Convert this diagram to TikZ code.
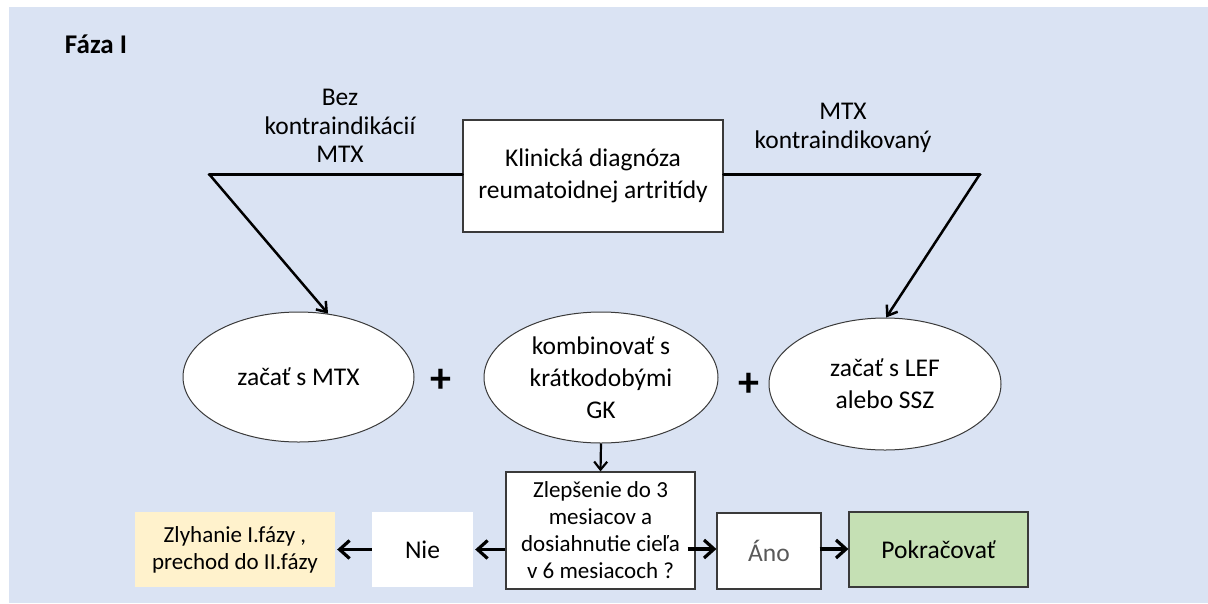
\documentclass[tikz,border=0pt]{standalone}
\usepackage{fontspec}
\setmainfont{Carlito}
\usetikzlibrary{arrows.meta,shapes.geometric}
\definecolor{bgblue}{HTML}{DAE3F3}
\definecolor{failyellow}{HTML}{FFF2CC}
\definecolor{okgreen}{HTML}{C5E0B4}
\definecolor{edgegrey}{HTML}{3A3A3A}
\definecolor{anotext}{HTML}{595959}
\begin{document}
\begin{tikzpicture}[x=1pt,y=-1pt,
  txt/.style={font=\fontsize{25.5}{32}\selectfont, align=center, inner sep=0pt},
  smalltxt/.style={font=\fontsize{23}{27}\selectfont, align=center, inner sep=0pt},
  lbltxt/.style={font=\fontsize{25.5}{28.5}\selectfont, align=center, inner sep=0pt},
  boxnode/.style={draw=edgegrey, line width=1.2pt, fill=white, inner sep=0pt},
  plainbox/.style={fill=white, inner sep=0pt},
  oval/.style={ellipse, draw=edgegrey, line width=1pt, fill=white, inner sep=0pt,
    minimum width=231pt, minimum height=130pt, font=\fontsize{25.5}{32}\selectfont, align=center},
  branch/.style={line width=3pt, line cap=round, line join=miter},
  diagarrow/.style={line width=2.5pt, -{Straight Barb[length=9pt,width=13pt,line width=2.5pt]}},
  flowarrow/.style={line width=3.2pt, -{Straight Barb[length=10pt,width=18pt,line width=3.2pt]}},
  downarrow/.style={line width=2.2pt, -{Straight Barb[length=8pt,width=13pt,line width=2.2pt]}},
  plussign/.style={font=\fontsize{42}{42}\selectfont\bfseries, inner sep=0pt}
]
\useasboundingbox (0,0) rectangle (1208,603);
\fill[bgblue] (9,7) rectangle (1208,603);

% title
\node[font=\fontsize{27}{30}\selectfont\bfseries, inner sep=0pt] (title) at (96,44) {Fáza I};

% diagnosis box
\node[boxnode, txt, minimum width=260pt, minimum height=112pt] (diag) at (593,176)
  {Klinická diagnóza\\reumatoidnej artritídy};

% branch labels
\node[lbltxt] (lbl1) at (340,126) {Bez\\kontraindikácií\\MTX};
\node[lbltxt] (lbl2) at (843,128) {MTX\\kontraindikovaný};

% ellipses
\node[oval] (e1) at (298.5,377) {začať s MTX};
\node[oval, minimum width=234pt, minimum height=131pt] (e2) at (601,377.5) {kombinovať s\\krátkodobými\\GK};
\node[oval, minimum width=232pt, minimum height=132pt] (e3) at (885,384) {začať s LEF\\alebo SSZ};

\node[plussign] (p1) at (441,381) {+};
\node[plussign] (p2) at (749,385) {+};

% branch points
\coordinate (L) at (209,174);
\coordinate (R) at (980,174);
\draw[branch] (diag.west |- L) -- (L);
\draw[branch] (diag.east |- R) -- (R);
\draw[diagarrow] (L) -- (e1.65);
\draw[diagarrow] (R) -- (e3.89);

% bottom row
\node[boxnode, smalltxt, minimum width=189pt, minimum height=117pt] (dec) at (600.5,530.5)
  {Zlepšenie do 3\\mesiacov a\\dosiahnutie cieľa\\v 6 mesiacoch ?};
\node[plainbox, txt, minimum width=101pt, minimum height=75pt] (nie) at (422.5,549.5) {Nie};
\node[fill=failyellow, smalltxt, minimum width=200pt, minimum height=75pt] (fail) at (235,549.5)
  {Zlyhanie I.fázy ,\\prechod do II.fázy};
\node[boxnode, txt, text=anotext, minimum width=104pt, minimum height=76pt] (ano) at (769,551) {Áno};
\node[boxnode, fill=okgreen, txt, minimum width=179pt, minimum height=75pt] (cont) at (938.5,549.5) {Pokračovať};

\draw[downarrow] (e2.south) -- (dec.north);
\draw[flowarrow] (dec.west |- nie.east) -- ([xshift=2pt]nie.east);
\draw[flowarrow, shorten >=2pt] (nie.west) -- (fail.east);
\draw[flowarrow, shorten <=-8pt] (dec.east |- 0,549) -- (ano.west |- 0,549);
\draw[flowarrow, shorten <=-2pt] (ano.east |- 0,549) -- (cont.west |- 0,549);
\end{tikzpicture}
\end{document}
